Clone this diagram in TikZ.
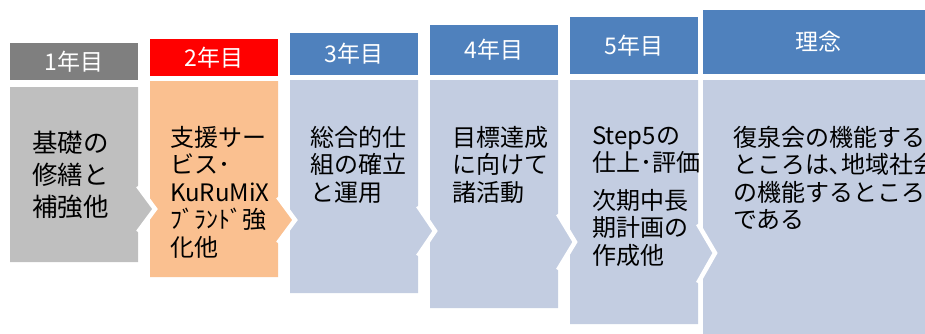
\documentclass[tikz,border=0pt]{standalone}
\usepackage{fontspec}
\usepackage{xcolor}
\usepackage{tikz}
\newfontfamily\jpfont{Noto Sans CJK JP}

\definecolor{hdgray}{RGB}{127,127,127}
\definecolor{bdgray}{RGB}{191,191,191}
\definecolor{hdred}{RGB}{255,0,0}
\definecolor{bdorange}{RGB}{250,192,144}
\definecolor{hdblue}{RGB}{79,129,189}
\definecolor{bdblue}{RGB}{195,205,225}

\tikzset{
  hdr/.style={anchor=north west, inner sep=0pt, outer sep=0pt, text=white,
    font=\jpfont\fontsize{23}{26}\selectfont},
  bodytxt/.style={anchor=north west, inner sep=0pt, align=left, text=black,
    font=\jpfont\fontsize{24}{27.5}\selectfont},
  notch/.style={draw=white, line width=4.5pt, line join=miter}
}

\begin{document}
\begin{tikzpicture}[x=1pt,y=1pt,yscale=-1,xscale=1]
\useasboundingbox (0,0) rectangle (925,333);
\clip (0,0) rectangle (925,333);

%Shape: Body 6
\fill [bdblue] (703,80) rectangle (935,345);
%Shape: Body 5
\fill [bdblue] (570,80) -- (698,80) -- (698,224) -- (715,253) -- (698,283) -- (698,324) -- (570,324) -- cycle;
\draw [notch] (698,224) -- (715,253) -- (698,283);
%Shape: Body 4
\fill [bdblue] (430,80) -- (558,80) -- (558,214) -- (575,242) -- (558,270) -- (558,308) -- (430,308) -- cycle;
\draw [notch] (558,214) -- (575,242) -- (558,270);
%Shape: Body 3
\fill [bdblue] (290,80) -- (418,80) -- (418,206) -- (435,231) -- (418,256) -- (418,293) -- (290,293) -- cycle;
\draw [notch] (418,206) -- (435,231) -- (418,256);
%Shape: Body 2
\fill [bdorange] (150,81) -- (278,81) -- (278,197) -- (295,220) -- (278,243) -- (278,277) -- (150,277) -- cycle;
\draw [notch] (278,197) -- (295,220) -- (278,243);
%Shape: Body 1
\fill [bdgray] (10,87) -- (138,87) -- (138,186) -- (155,209) -- (138,232) -- (138,262) -- (10,262) -- cycle;
\draw [notch] (138,186) -- (155,209) -- (138,232);

% Header Nodes
\node [hdr, fill=hdgray, minimum width=128, minimum height=37] (yr1) at (10,43) {1年目};
\node [hdr, fill=hdred, minimum width=128, minimum height=37] (yr2) at (150,39) {2年目};
\node [hdr, fill=hdblue, minimum width=128, minimum height=42] (yr3) at (290,33) {3年目};
\node [hdr, fill=hdblue, minimum width=128, minimum height=50] (yr4) at (430,25) {4年目};
\node [hdr, fill=hdblue, minimum width=128, minimum height=57] (yr5) at (570,17) {5年目};
\node [hdr, fill=hdblue, minimum width=230, minimum height=64] (rinen) at (703,10) {理念};

% Text Node
\node [bodytxt, font=\jpfont\fontsize{25.5}{32}\selectfont] (txt1) at (32,131) {基礎の\\修繕と\\補強他};
% Text Node
\node [bodytxt] (txt2) at (170,126) {支援サー\\ビス･\\KuRuMiX\\ﾌﾞﾗﾝﾄﾞ強\\化他};
% Text Node
\node [bodytxt] (txt3) at (310,126) {総合的仕\\組の確立\\と運用};
% Text Node
\node [bodytxt] (txt4) at (452,126) {目標達成\\に向けて\\諸活動};
% Text Node
\node [bodytxt] (txt5) at (592,126) {Step5の\\仕上･評価\\[10pt]次期中長\\期計画の\\作成他};
% Text Node
\node [bodytxt] (txt6) at (733,126) {復泉会の機能する\\ところは､地域社会\\の機能するところ\\である};

\end{tikzpicture}
\end{document}
